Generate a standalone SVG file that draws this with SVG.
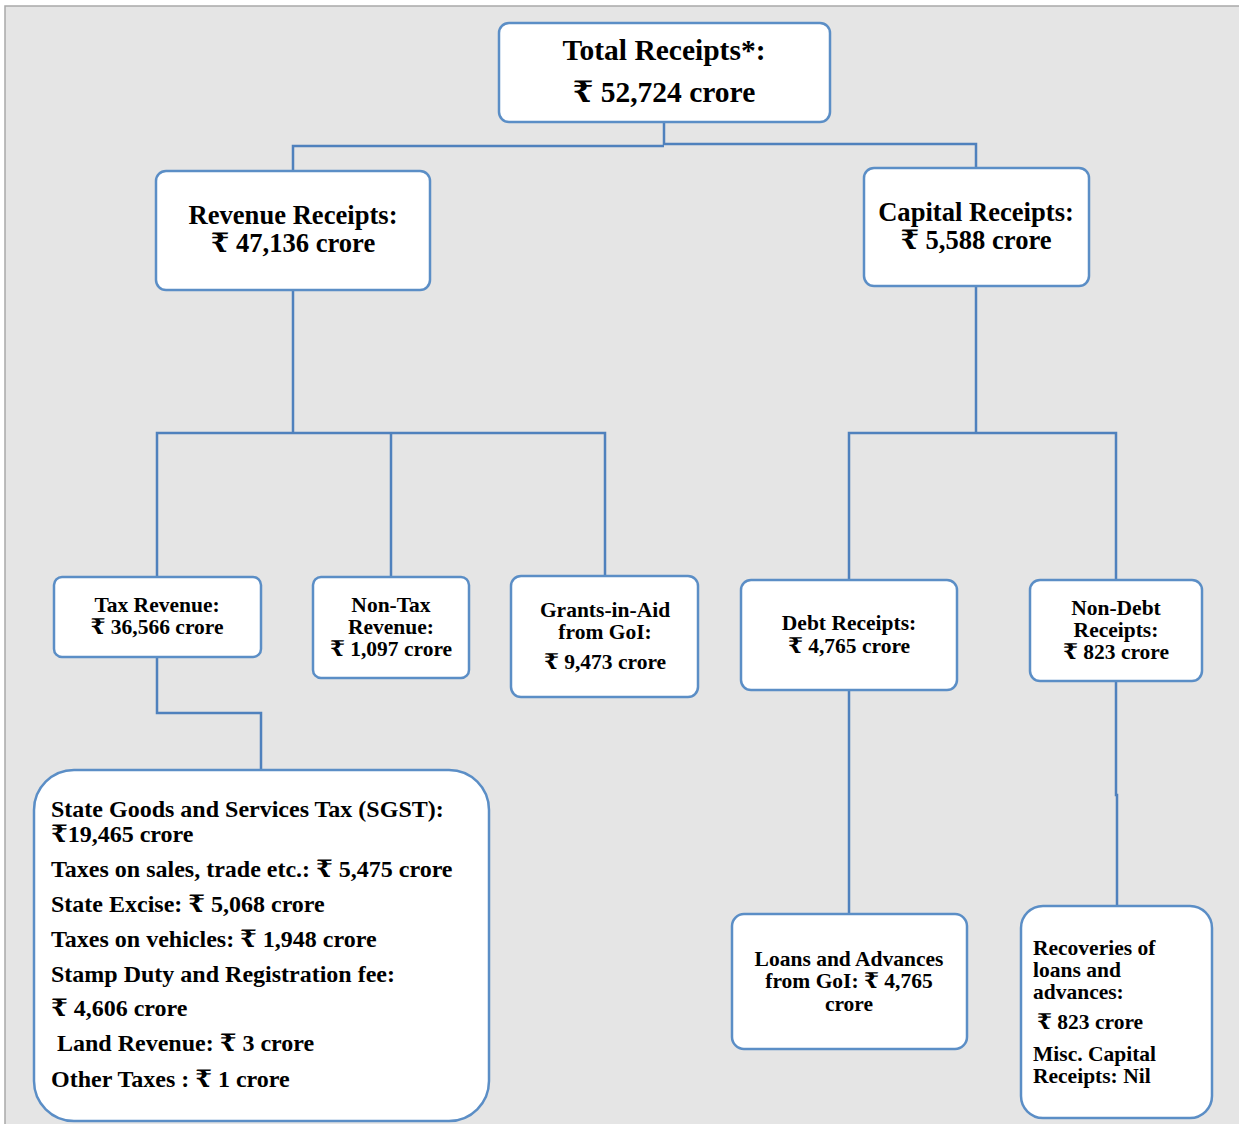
<svg xmlns="http://www.w3.org/2000/svg" width="1239" height="1124" viewBox="0 0 1239 1124">
<style>
.bg{fill:#e5e5e5;stroke:#a9a9a9;stroke-width:1.5}
.box{fill:#ffffff;stroke:#5b8ec6;stroke-width:2.5}
.ln{fill:none;stroke:#4f81bd;stroke-width:2.5}
text{font-family:"Liberation Serif","DejaVu Serif",serif;font-weight:bold;fill:#000}
.c{text-anchor:middle}
.t1{font-size:29.5px}
.t2{font-size:26.6px}
.t3{font-size:21.5px}
.t4{font-size:24px}
</style>
<rect class="bg" x="5" y="6" width="1240" height="1125"/>
<g id="connectors">
<polyline class="ln" points="664,122 664,145"/>
<polyline class="ln" points="293,171 293,146 664,146"/>
<polyline class="ln" points="664,144 976,144 976,168"/>
<polyline class="ln" points="293,290 293,433"/>
<polyline class="ln" points="157,577 157,433 605,433 605,576"/>
<polyline class="ln" points="391,433 391,577"/>
<polyline class="ln" points="976,286 976,433"/>
<polyline class="ln" points="849,580 849,433 1116,433 1116,580"/>
<polyline class="ln" points="157,657 157,713 261,713 261,770"/>
<polyline class="ln" points="849,690 849,914"/>
<polyline class="ln" points="1116,681 1116,795 1117,795 1117,906"/>
</g>
<g id="total">
<rect class="box" x="499" y="23" width="331" height="99" rx="10"/>
<text class="c t1" x="664" y="60">Total Receipts*:</text>
<text class="c t1" x="664" y="102">₹ 52,724 crore</text>
</g>
<g id="revenue">
<rect class="box" x="156" y="171" width="274" height="119" rx="10"/>
<text class="c t2" x="293" y="224">Revenue Receipts:</text>
<text class="c t2" x="293" y="252">₹ 47,136 crore</text>
</g>
<g id="capital">
<rect class="box" x="864" y="168" width="225" height="118" rx="10"/>
<text class="c t2" x="976" y="221">Capital Receipts:</text>
<text class="c t2" x="976" y="249">₹ 5,588 crore</text>
</g>
<g id="tax">
<rect class="box" x="54" y="577" width="207" height="80" rx="8"/>
<text class="c t3" x="157" y="612">Tax Revenue:</text>
<text class="c t3" x="157" y="634">₹ 36,566 crore</text>
</g>
<g id="nontax">
<rect class="box" x="313" y="577" width="156" height="101" rx="8"/>
<text class="c t3" x="391" y="612">Non-Tax</text>
<text class="c t3" x="391" y="634">Revenue:</text>
<text class="c t3" x="391" y="656">₹ 1,097 crore</text>
</g>
<g id="grants">
<rect class="box" x="511" y="576" width="187" height="121" rx="10"/>
<text class="c t3" x="605" y="617">Grants-in-Aid</text>
<text class="c t3" x="605" y="639">from GoI:</text>
<text class="c t3" x="605" y="669">₹ 9,473 crore</text>
</g>
<g id="debt">
<rect class="box" x="741" y="580" width="216" height="110" rx="10"/>
<text class="c t3" x="849" y="630">Debt Receipts:</text>
<text class="c t3" x="849" y="653">₹ 4,765 crore</text>
</g>
<g id="nondebt">
<rect class="box" x="1030" y="580" width="172" height="101" rx="10"/>
<text class="c t3" x="1116" y="615">Non-Debt</text>
<text class="c t3" x="1116" y="637">Receipts:</text>
<text class="c t3" x="1116" y="659">₹ 823 crore</text>
</g>
<g id="sgst">
<rect class="box" x="34" y="770" width="455" height="351" rx="40"/>
<text class="t4" x="51" y="817">State Goods and Services Tax (SGST):</text>
<text class="t4" x="51" y="842">₹19,465 crore</text>
<text class="t4" x="51" y="877">Taxes on sales, trade etc.: ₹ 5,475 crore</text>
<text class="t4" x="51" y="912">State Excise: ₹ 5,068 crore</text>
<text class="t4" x="51" y="947">Taxes on vehicles: ₹ 1,948 crore</text>
<text class="t4" x="51" y="982">Stamp Duty and Registration fee:</text>
<text class="t4" x="51" y="1016">₹ 4,606 crore</text>
<text class="t4" x="57" y="1051">Land Revenue: ₹ 3 crore</text>
<text class="t4" x="51" y="1087">Other Taxes : ₹ 1 crore</text>
</g>
<g id="loans">
<rect class="box" x="732" y="914" width="235" height="135" rx="12"/>
<text class="c t3" x="849" y="966">Loans and Advances</text>
<text class="c t3" x="849" y="988">from GoI: ₹ 4,765</text>
<text class="c t3" x="849" y="1011">crore</text>
</g>
<g id="recoveries">
<rect class="box" x="1021" y="906" width="191" height="212" rx="22"/>
<text class="t3" x="1033" y="955">Recoveries of</text>
<text class="t3" x="1033" y="977">loans and</text>
<text class="t3" x="1033" y="999">advances:</text>
<text class="t3" x="1037" y="1029">₹ 823 crore</text>
<text class="t3" x="1033" y="1061">Misc. Capital</text>
<text class="t3" x="1033" y="1083">Receipts: Nil</text>
</g>
</svg>
